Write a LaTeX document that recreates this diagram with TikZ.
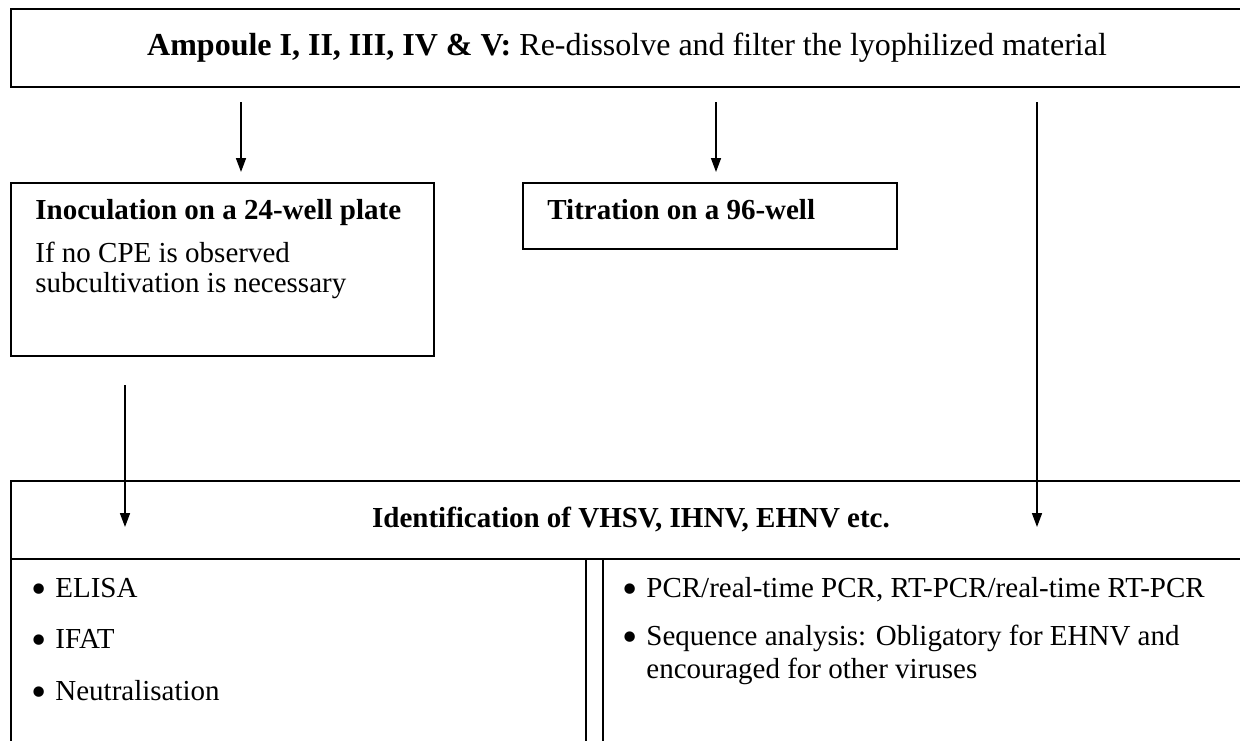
\documentclass[tikz,border=0pt]{standalone}
\usepackage{fontspec}
\setmainfont{Liberation Serif}
\usepackage{tikz}
\usetikzlibrary{arrows.meta}
\tikzstyle{box}=[draw,line width=1pt,inner sep=0pt,anchor=north west]
\tikzstyle{line}=[inner sep=0pt,anchor=base west,font=\fontsize{14.5}{16.5}\selectfont]
\tikzstyle{arr}=[line width=0.8pt,-{Triangle[length=7pt,width=5pt]}]
\newcommand{\bul}{\makebox[12pt][l]{\raisebox{-3.1pt}{\scalebox{1.5}{\textbullet}}}}

\begin{document}
\begin{tikzpicture}[x=0.5pt,y=-0.5pt]
  \useasboundingbox (0,0) rectangle (1240,740);
  \fill[white] (0,0) rectangle (1240,740);
  \clip (0,0) rectangle (1240,740);
  % boxes
  \node[box,minimum width=616pt,minimum height=39pt,
        font=\fontsize{16}{19}\selectfont] (top) at (10,8)
    {\textbf{Ampoule I, II, III, IV \& V:} Re-dissolve and filter the lyophilized material};
  \node[box,minimum width=211.5pt,minimum height=86.5pt] (inoc) at (10,182) {};
  \node[box,minimum width=187pt,minimum height=33pt] (titr) at (522,182) {};
  \node[box,minimum width=620pt,minimum height=39pt,
        font=\fontsize{14.5}{16.5}\selectfont\bfseries] (hdr) at (10,480)
    {Identification of VHSV, IHNV, EHNV etc.};
  \node[box,minimum width=287.5pt,minimum height=100pt] (cellL) at (10,558) {};
  \node[box,minimum width=324pt,minimum height=100pt] (cellR) at (602,558) {};
  % texts in the boxes
  \node[line,font=\fontsize{14.5}{16.5}\selectfont\bfseries] (inoc-1) at (35,219)
    {Inoculation on a 24-well plate};
  \node[line] (inoc-2) at (35,262) {If no CPE is observed};
  \node[line] (inoc-3) at (35,292) {subcultivation is necessary};
  \node[line,font=\fontsize{14.5}{16.5}\selectfont\bfseries] (titr-1) at (547,219)
    {Titration on a 96-well};
  \foreach \name/\y/\lbl in {L-1/597/ELISA, L-2/648/IFAT, L-3/700/Neutralisation}
    \node[line] (\name) at (31,\y) {\bul\lbl};
  \node[line] (R-1) at (622,597) {\bul PCR/real-time PCR, RT-PCR/real-time RT-PCR};
  \node[line] (R-2) at (622,645) {\bul Sequence analysis: Obligatory for EHNV and};
  \node[line] (R-3) at (646,678) {encouraged for other viruses};
  % arrows
  \coordinate (xa) at (241,0);
  \coordinate (xb) at (716,0);
  \coordinate (tipc) at (1037,527);
  \coordinate (tipd) at (125,527);
  \draw[arr,shorten <=7pt,shorten >=5pt] (top.south -| xa) -- (inoc.north -| xa);
  \draw[arr,shorten <=7pt,shorten >=5pt] (top.south -| xb) -- (titr.north -| xb);
  \draw[arr,shorten <=7pt] (top.south -| tipc) -- (tipc);
  \draw[arr,shorten <=14pt] (inoc.south -| tipd) -- (tipd);
\end{tikzpicture}
\end{document}
